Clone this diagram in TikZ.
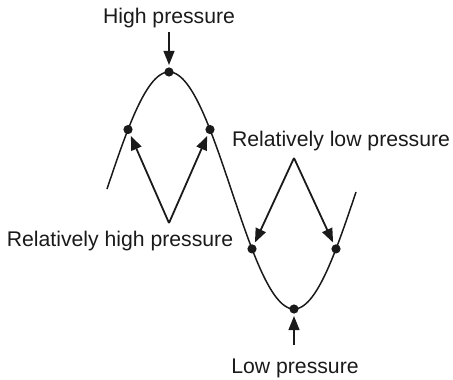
\documentclass[tikz,border=0pt]{standalone}
\usepackage{fontspec}
\setmainfont{Liberation Sans}
\usetikzlibrary{arrows.meta}
\definecolor{ink}{HTML}{1A1A1A}

\begin{document}
\begin{tikzpicture}[x=0.5pt, y=-0.5pt,
    font=\fontsize{10.6}{12}\selectfont,
    wave/.style={line width=0.75pt, draw=ink},
    dot/.style={circle, fill=ink, inner sep=0pt, minimum size=4.6pt},
    arr/.style={-{Triangle[length=7pt, width=5.4pt]}, line width=0.9pt, draw=ink, shorten >=1pt},
    lbl/.style={anchor=base, text=ink, inner sep=1.5pt}]
  \useasboundingbox (0,0) rectangle (453,379);

  % the wave
  \draw[wave] plot[domain=107:356, samples=120, smooth]
    (\x, {190.5 - 118.5*cos((\x-169)*1.44)});

  % points on the wave
  \foreach \name/\px in {hiL/128, peak/169, hiR/210, loL/252, trough/294, loR/336}
    \node[dot] (\name) at (\px, {190.5 - 118.5*cos((\px-169)*1.44)}) {};

  % labels
  \node[lbl] (high) at (169,24) {High pressure};
  \node[lbl] (relhigh) at (120,246) {Relatively high pressure};
  \node[lbl] (rellow) at (341,147) {Relatively low pressure};
  \node[lbl] (low) at (295,373) {Low pressure};

  \coordinate (hiV) at (169,223);
  \coordinate (loV) at (294,158);
  \coordinate (lowtail) at (294,345);

  % pointers
  \draw[arr] (high) -- (peak);
  \draw[arr] (hiV) -- (hiL);
  \draw[arr] (hiV) -- (hiR);
  \draw[arr] (loV) -- (loL);
  \draw[arr] (loV) -- (loR);
  \draw[arr] (lowtail) -- (trough);
\end{tikzpicture}
\end{document}
